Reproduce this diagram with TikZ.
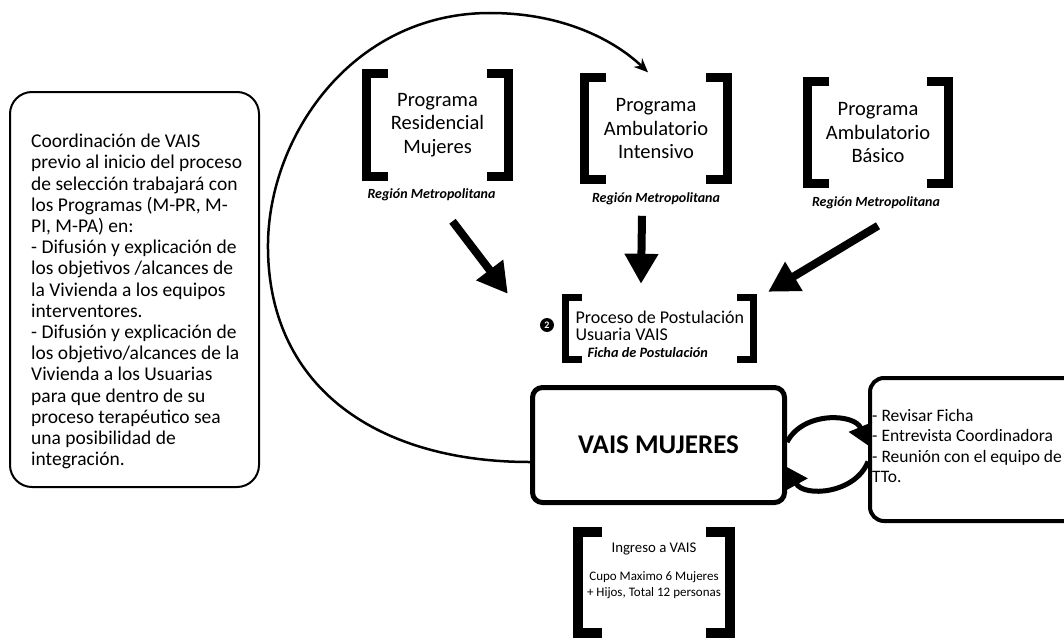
\documentclass[tikz,border=0pt]{standalone}
\usepackage{fontspec}
\setmainfont{Carlito}
\usetikzlibrary{positioning,arrows.meta}
\tikzset{
progbox/.style={
  minimum width=#1,
  minimum height=102pt,
  inner sep=0pt,
  align=center,
  font=\fontsize{20.5}{23.5}\selectfont
  },
progbox/.default=141pt,
regionlbl/.style={
  inner sep=0pt,
  font=\fontsize{14}{14}\selectfont\bfseries\itshape
  },
roundbox/.style={
  draw,
  rounded corners=#1,
  inner sep=0pt
  },
bigarrow/.style={
  line width=8pt,
  -{Triangle[length=30pt,width=32pt]}
  },
cyclearrow/.style={
  line width=5pt,
  -{Triangle[length=20pt,width=24pt]}
  }
}
% square brackets round a node: node, serif length, line width
\newcommand{\brackets}[3]{%
  \draw[line width=#3] ([xshift=#2]#1.north west) -- (#1.north west)
    -- (#1.south west) -- ([xshift=#2]#1.south west);
  \draw[line width=#3] ([xshift=-#2]#1.north east) -- (#1.north east)
    -- (#1.south east) -- ([xshift=-#2]#1.south east);
}
\begin{document}
\begin{tikzpicture}[x=1pt,y=-1pt,>=latex]
  \useasboundingbox (0,0) rectangle (1064,642);

  % left box
  \node[roundbox=22pt,line width=2pt,minimum width=249pt,minimum height=395pt]
    (coordbox) at (134.5,289.5) {};
  \node[anchor=north west,inner sep=0pt,align=left,
        font=\fontsize{19.5}{21.2}\selectfont]
    (coordtxt) at ([xshift=22pt,yshift=-43pt]coordbox.north west)
    {Coordinación de VAIS\\
     previo al inicio del proceso\\
     de selección trabajará con\\
     los Programas (M-PR, M-\\
     PI, M-PA) en:\\
     - Difusión y explicación de\\
     los objetivos /alcances de\\
     la Vivienda a los equipos\\
     interventores.\\
     - Difusión y explicación de\\
     los objetivo/alcances de la\\
     Vivienda a los Usuarias\\
     para que dentro de su\\
     proceso terapéutico sea\\
     una posibilidad de\\
     integración.};

  % programas
  \node[progbox] (progres) at (437.5,125) {Programa\\Residencial\\Mujeres};
  \node[progbox=142pt] (progint) at (656,128.5) {Programa\\Ambulatorio\\Intensivo};
  \node[progbox=140pt] (progbas) at (878,132.5) {Programa\\Ambulatorio\\Básico};
  \brackets{progres}{21pt}{9pt}
  \brackets{progint}{21pt}{9pt}
  \brackets{progbas}{21pt}{9pt}
  \node[regionlbl,below=12.5pt of progres,xshift=-6pt] (regres) {Región Metropolitana};
  \node[regionlbl,below=12.5pt of progint] (regint) {Región Metropolitana};
  \node[regionlbl,below=12.5pt of progbas,xshift=-2pt] (regbas) {Región Metropolitana};

  % postulacion
  \node[minimum width=188pt,minimum height=61pt,inner sep=0pt]
    (proceso) at (659.5,328.5) {};
  \brackets{proceso}{16.5pt}{7pt}
  \node[anchor=west,inner sep=0pt,align=left,
        font=\fontsize{18}{17}\selectfont]
    (procesotxt) at ([xshift=10pt,yshift=-6pt]proceso.west)
    {Proceso de Postulación\\
     Usuaria VAIS\\
     \hspace*{12pt}{\fontsize{14.3}{14}\selectfont\bfseries\itshape Ficha de Postulación}};
  \node[circle,fill=black,text=white,inner sep=2pt,
        font=\fontsize{10}{10}\selectfont\bfseries]
    (numdos) at (547,325) {2};

  \draw[bigarrow] ([xshift=21pt,yshift=-20pt]regres.south)
    -- ([xshift=-57.5pt,yshift=4pt]proceso.north west);
  \draw[bigarrow] ([xshift=-14pt,yshift=-11pt]regint.south)
    -- ([xshift=-18.5pt,yshift=14pt]proceso.north);
  \draw[bigarrow] ([xshift=2pt,yshift=-17pt]regbas.south)
    -- ([xshift=14.5pt,yshift=6pt]proceso.north east);

  % vais
  \node[roundbox=10pt,line width=5pt,minimum width=252pt,minimum height=115pt,
        font=\fontsize{27}{27}\selectfont\bfseries]
    (vais) at (658.5,445) {VAIS MUJERES};

  % right box
  \node[roundbox=14pt,line width=4pt,minimum width=210pt,minimum height=143pt]
    (rightbox) at (975,449.5) {};
  \node[anchor=west,inner sep=0pt,align=left,
        font=\fontsize{17.5}{20.3}\selectfont]
    (tasks) at ([xshift=4pt,yshift=3.5pt]rightbox.west)
    {- Revisar Ficha\\
     - Entrevista Coordinadora\\
     - Reunión con el equipo de\\
     TTo.};

  \draw[cyclearrow] ([yshift=3pt]vais.east)
    to[bend left=65,looseness=1.1] ([yshift=4pt]rightbox.west);
  \draw[cyclearrow] ([yshift=-12pt]rightbox.west)
    to[bend left=65,looseness=1.1] ([yshift=-22pt]vais.east);

  % ingreso
  \node[minimum width=152pt,minimum height=101pt,inner sep=0pt]
    (ingreso) at (654,582.5) {};
  \brackets{ingreso}{24pt}{10pt}
  \node[anchor=north,inner sep=0pt,align=center,
        font=\fontsize{13}{16}\selectfont]
    (ingresotxt) at ([yshift=-11pt]ingreso.north)
    {{\fontsize{14.8}{16}\selectfont Ingreso a VAIS}\\[12pt]
     Cupo Maximo 6 Mujeres\\
     + Hijos, Total 12 personas};

  % return arc
  \coordinate (arcleft) at (268,250);
  \coordinate (arctop) at (490,13);
  \draw[line width=2.5pt,-{Stealth[length=14pt,width=12pt]}]
    ([yshift=-17pt]vais.west) .. controls +(-150,0) and +(2,140) .. (arcleft)
    .. controls +(-2,-110) and +(-140,0) .. (arctop)
    .. controls +(80,0) and +(-28,-27) .. ([xshift=-8pt,yshift=5pt]progint.north);
\end{tikzpicture}
\end{document}
